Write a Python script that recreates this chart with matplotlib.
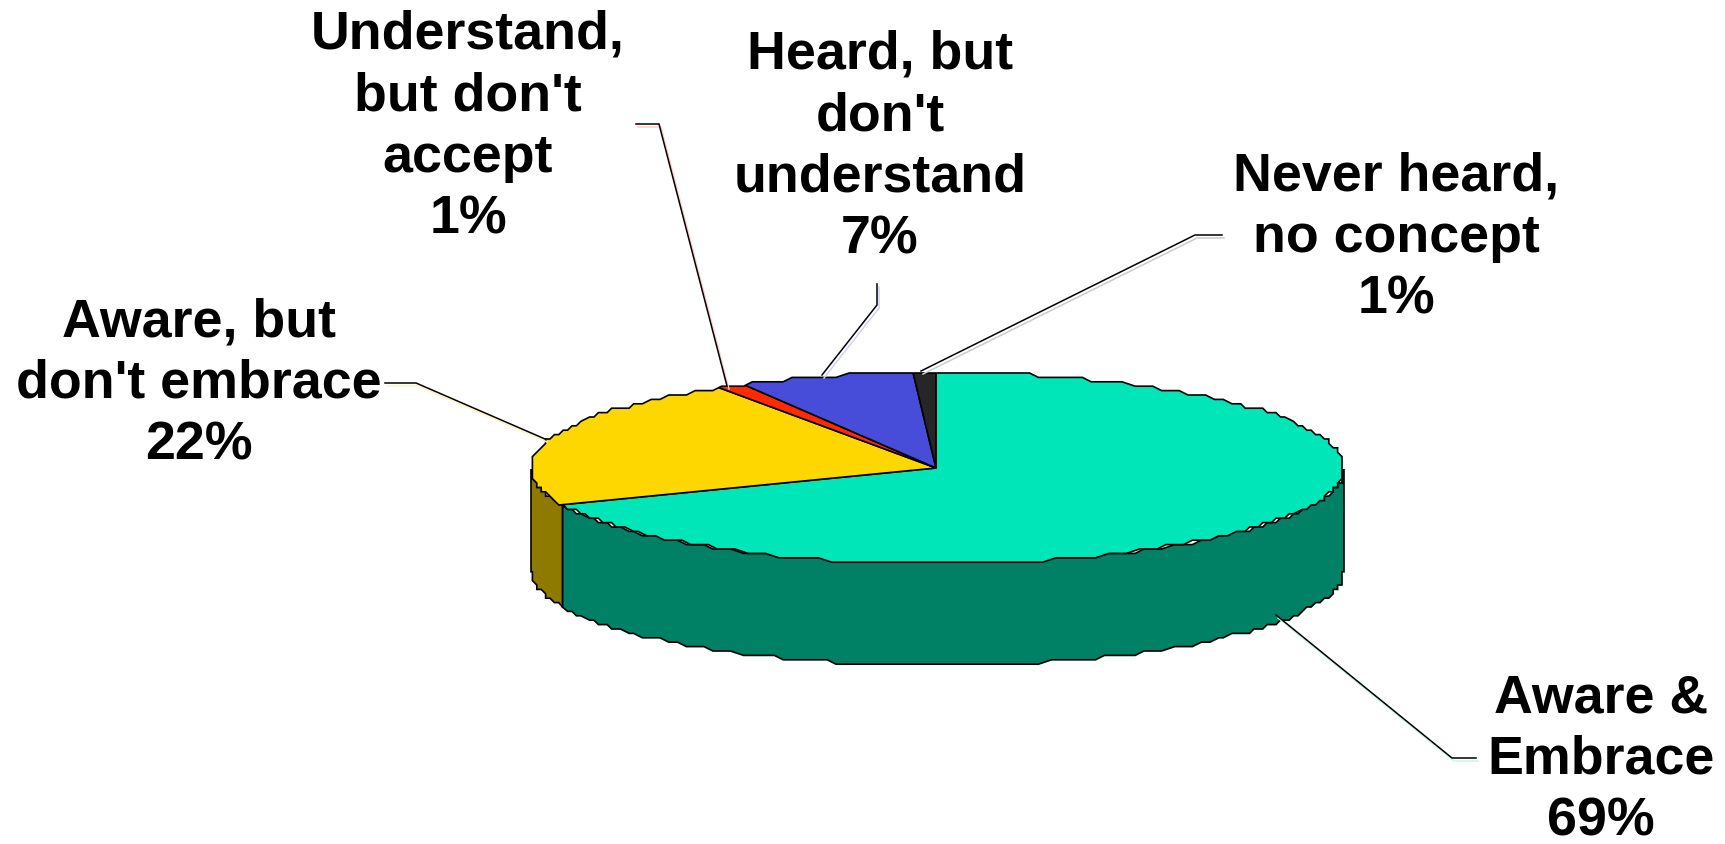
import numpy as np
import matplotlib
matplotlib.use("Agg")
import matplotlib.pyplot as plt
from matplotlib.patches import Polygon
from matplotlib.transforms import Affine2D

plt.rcParams['font.family'] = ['Liberation Sans', 'DejaVu Sans']

# ---- data ----
categories = ["Aware &\nEmbrace", "Aware, but\ndon't embrace", "Understand,\nbut don't\naccept",
              "Heard, but\ndon't\nunderstand", "Never heard,\nno concept"]
values = [68.7, 22.3, 1.1, 7.0, 0.9]
top_colors = ["#00E6B8", "#FFD700", "#FF2A00", "#474DD9", "#262626"]
wall_colors = ["#008064", "#8F7A00"]
shadow_colors = ["#C8F5EC", "#FFF3C0", "#FFCFC8", "#D0D2F5", "#CCCCCC"]

# ---- layout (pixels) ----
W, H = 1725, 845
CX, CY, RX, RY, DEPTH, GRID = 937.5, 469.0, 406.5, 95.5, 102.0, 4.4
APEX = (936.0, 469.0)
label_xy = [(1601, 760), (199, 384), (468, 127), (880, 147), (1396, 238)]
leaders = [[(1476, 759), (1452, 759), (1276, 616)],
           [(385, 384), (416, 384), (545, 440)],
           [(636, 125), (659, 125), (727, 387)],
           [(877, 285), (877, 306), (822, 376)],
           [(1222, 236), (1195, 236), (921, 372)]]

fig = plt.figure(figsize=(W / 100, H / 100), dpi=100, facecolor="white")
ax = fig.add_axes([0, 0, 1, 1])


def rim(phi_deg, dy=0.0, step=1.6):
    """Stair-stepped rim of the ellipse, phi clockwise from 12 o'clock."""
    n = max(2, int(abs(phi_deg[1] - phi_deg[0]) / step) + 1)
    phi = np.radians(np.linspace(phi_deg[0], phi_deg[1], n))
    x = CX + RX * np.sin(phi)
    y = CY - RY * np.cos(phi)
    x[1:-1] = np.round(x[1:-1] / GRID) * GRID
    y = np.round(y / GRID) * GRID + dy
    return np.column_stack([x, y])


cum = np.cumsum(values) / np.sum(values) * 360.0

# side walls, drawn from the slices that face the viewer
walls = [((90.0, cum[0]), wall_colors[0]), ((cum[0], 270.0), wall_colors[1])]
for span, color in walls:
    upper = rim(span)
    lower = rim(span, dy=DEPTH)[::-1]
    ax.add_patch(Polygon(np.vstack([upper, lower]), closed=True, facecolor=color,
                         edgecolor="black", linewidth=1.2, zorder=1))

# top face
outline = rim((0.0, 360.0))
clip = Polygon(outline, closed=True, transform=ax.transData)
squash = Affine2D().scale(RX, -RY).translate(*APEX) + ax.transData
wedges, _ = ax.pie(values, colors=top_colors, startangle=90, counterclock=False, radius=1.04,
                   wedgeprops=dict(edgecolor="black", linewidth=1.2, transform=squash, zorder=2))
for w in wedges:
    w.set_clip_on(True)
    w.set_clip_path(clip)
ax.add_patch(Polygon(outline, closed=True, fill=False, edgecolor="black", linewidth=1.2, zorder=3))

# leader lines and their faint shadow
for pts, shade in zip(leaders, shadow_colors):
    p = np.array(pts, dtype=float)
    ax.plot(p[:, 0] + 2, p[:, 1] + 3, color=shade, lw=1.1, zorder=4, solid_joinstyle="miter")
    ax.plot(p[:, 0], p[:, 1], color="black", lw=1.1, zorder=5, solid_joinstyle="miter")

# labels
for cat, val, (x, y) in zip(categories, values, label_xy):
    ax.text(x, y, f"{cat}\n{val:.0f}%", ha="center", va="center", fontsize=38.7, fontweight="bold",
            color="black", linespacing=1.3, zorder=6)

ax.set_aspect("auto")
ax.set_xlim(0, W)
ax.set_ylim(H, 0)
ax.axis("off")
fig.savefig("out.png", dpi=100, facecolor="white")
